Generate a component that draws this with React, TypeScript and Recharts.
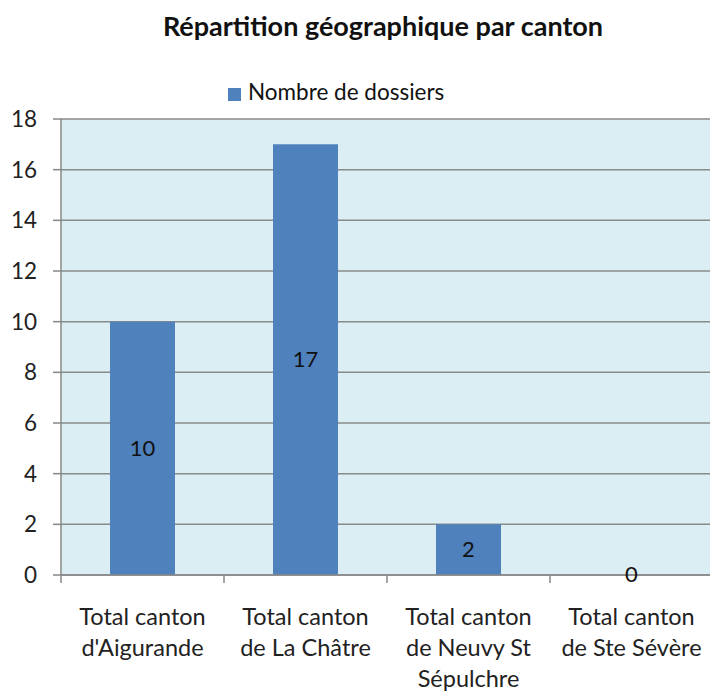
import React from "react";
import { BarChart, Bar, XAxis, YAxis, CartesianGrid, Legend, LabelList, Rectangle } from "recharts";

const categories = [
  "Total canton\nd'Aigurande",
  "Total canton\nde La Châtre",
  "Total canton\nde Neuvy St\nSépulchre",
  "Total canton\nde Ste Sévère",
];
const dossiers = [10, 17, 2, 0];
const yTicks = [0, 2, 4, 6, 8, 10, 12, 14, 16, 18];
const seriesName = "Nombre de dossiers";
const title = "Répartition géographique par canton";

const data = categories.map((c, i) => ({ name: c, value: dossiers[i] }));

const FONT = "Lato, 'Open Sans', sans-serif";

const XTick = (props: any) => {
  const { x, y, payload, width, visibleTicksCount } = props;
  const band = width / (visibleTicksCount || 4);
  const lines = String(payload.value).split("\n");
  return (
    <g>
      <line x1={x - band / 2} x2={x - band / 2} y1={y - 8} y2={y} stroke="#888" strokeWidth={1.5} />
      <text x={x} y={y + 42} textAnchor="middle" fontFamily={FONT} fontSize={23.5} fill="#222">
        {lines.map((l, i) => (
          <tspan key={i} x={x} dy={i === 0 ? 0 : 31}>
            {l}
          </tspan>
        ))}
      </text>
    </g>
  );
};

const BarShape = (props: any) => {
  if (!props.payload || props.payload.value === 0) return null;
  return <Rectangle {...props} />;
};

export default function App() {
  return (
    <div style={{ position: "absolute", left: 0, top: 0, width: 710, height: 693, overflow: "hidden", background: "#fff" }}>
      <div
        style={{
          position: "absolute",
          top: 9,
          left: 0,
          width: 766,
          textAlign: "center",
          fontFamily: FONT,
          fontWeight: 700,
          fontSize: 27,
          color: "#111",
        }}
      >
        {title}
      </div>
      <BarChart
        width={713}
        height={693}
        data={data}
        margin={{ top: 92, right: 0, bottom: 0, left: 0 }}
      >
        <CartesianGrid vertical={false} stroke="#8a8a8a" strokeWidth={1.5} fill="#dbeef4" />
        <XAxis
          dataKey="name"
          height={118}
          tick={<XTick />}
          tickLine={false}
          axisLine={{ stroke: "#888", strokeWidth: 1.5 }}
          interval={0}
        />
        <YAxis
          width={61}
          domain={[0, 18]}
          ticks={yTicks}
          interval={0}
          tickSize={8}
          tickMargin={16}
          tickLine={{ stroke: "#888", strokeWidth: 1.5 }}
          axisLine={{ stroke: "#888", strokeWidth: 1.5 }}
          tick={{ fontFamily: FONT, fontSize: 22.5, fill: "#222" }}
        />
        <Legend
          verticalAlign="top"
          align="left"
          iconType="square"
          iconSize={13}
          wrapperStyle={{ top: 78, left: 228, width: "auto", fontFamily: FONT, fontSize: 22.5 }}
          formatter={(v: string) => <span style={{ color: "#111", marginLeft: 3 }}>{v}</span>}
        />
        <Bar
          dataKey="value"
          name={seriesName}
          fill="#4f81bd"
          barSize={65}
          minPointSize={1}
          shape={<BarShape />}
          isAnimationActive={false}
        >
          <LabelList dataKey="value" position="center" fontFamily={FONT} fontSize={22} fill="#111" />
        </Bar>
      </BarChart>
    </div>
  );
}
